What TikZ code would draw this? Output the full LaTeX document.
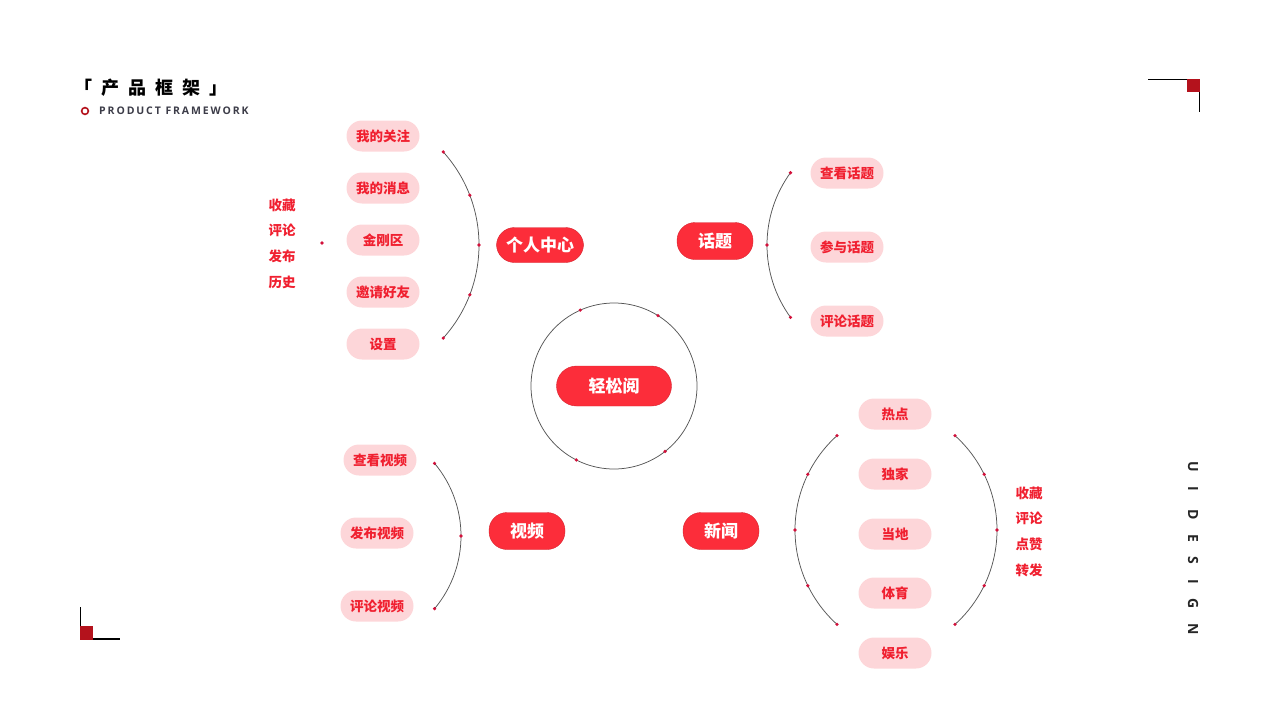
\documentclass[tikz,border=0pt]{standalone}
\usepackage{fontspec}
\usetikzlibrary{calc}
\setmainfont{Open Sans}
\newfontfamily\cjk{Noto Sans CJK SC}
\newfontfamily\cjkwide{Noto Sans CJK SC}[LetterSpace=50]
\newfontfamily\capsfont{Open Sans}[LetterSpace=18]
\newfontfamily\sidefont{Open Sans}[LetterSpace=105]
\definecolor{hubred}{RGB}{252,45,58}
\definecolor{leafpink}{RGB}{253,214,217}
\definecolor{leaftext}{RGB}{240,32,48}
\definecolor{dotred}{RGB}{210,16,58}
\definecolor{cornerred}{RGB}{180,18,28}
\definecolor{linegray}{RGB}{85,85,85}
\definecolor{subgray}{RGB}{60,60,72}

\begin{document}
\begin{tikzpicture}[x=1pt,y=-1pt]
    \tikzstyle{hub}=[rectangle, rounded corners=18pt, fill=hubred, draw=hubred!85!black, line width=0.4pt, text=white, minimum width=76pt, minimum height=37pt, inner sep=0pt, font=\cjk\bfseries\fontsize{17}{17}\selectfont]
    \tikzstyle{leaf}=[rectangle, rounded corners=15.5pt, fill=leafpink, text=leaftext, minimum width=73pt, minimum height=31pt, inner sep=0pt, font=\cjk\bfseries\fontsize{13.5}{13.5}\selectfont]
    \tikzstyle{note}=[text=leaftext, align=center, inner sep=0pt, font=\cjk\bfseries\fontsize{13.5}{25.7}\selectfont]
    \tikzstyle{dot}=[circle, fill=dotred, inner sep=0pt, minimum size=3.6pt]
    \tikzstyle{link}=[draw=linegray, line width=0.75pt]

    \useasboundingbox (0,0) rectangle (1280,720);

    % title and corners
    \node[anchor=west, inner sep=0pt] (title) at (74,88) {\cjkwide\bfseries\fontsize{18}{18}\selectfont 「产品框架」};
    \draw[draw=cornerred, line width=1.6pt] (85,111) circle (3.4);
    \node[anchor=west, inner sep=0pt, text=subgray] (sub) at (99,111) {\capsfont\bfseries\fontsize{10.5}{10.5}\selectfont PRODUCT FRAMEWORK};
    \node[rotate=-90, inner sep=0pt, text=black!85] (side) at (1193,548) {\sidefont\bfseries\fontsize{14}{14}\selectfont UI DESIGN};

    \coordinate (tr1) at (1148,79.5);
    \coordinate (tr2) at (1199.5,79.5);
    \coordinate (tr3) at (1199.5,112);
    \draw[line width=1.8pt] (tr1) -- (tr2) -- (tr3);
    \fill[cornerred] (1187,79) rectangle (1200,92);
    \coordinate (bl1) at (80.5,607);
    \coordinate (bl2) at (80.5,639);
    \coordinate (bl3) at (120,639);
    \draw[line width=1.8pt] (bl1) -- (bl2) -- (bl3);
    \fill[cornerred] (80,626) rectangle (93,639.5);

    % centre
    \coordinate (cc) at (614,386);
    \draw[link] (cc) circle (83);
    \node[hub, minimum width=115pt, minimum height=40pt, rounded corners=20pt] (main) at (614,386) {轻松阅};
    \foreach \a [count=\i] in {-114,-58,52,117}
        \node[dot] (c\i) at ($(cc)+(\a:83)$) {};

    % hubs
    \node[hub, minimum width=87pt, minimum height=35pt] (mine) at (540,245) {个人中心};
    \node[hub] (topic) at (715,241) {话题};
    \node[hub] (video) at (527,531) {视频};
    \node[hub] (news) at (721,531) {新闻};

    % mine
    \node[leaf] (m1) at (383,136) {我的关注};
    \node[leaf] (m2) at (383,188) {我的消息};
    \node[leaf] (m3) at (383,240) {金刚区};
    \node[leaf] (m4) at (383,292) {邀请好友};
    \node[leaf] (m5) at (383,344) {设置};
    \coordinate (mc) at (340,245);
    \draw[link] ($(mc)+(-42:139)$) arc[start angle=-42, end angle=42, radius=139];
    \foreach \a [count=\i] in {-42,-21,0,21,42}
        \node[dot] (ma\i) at ($(mc)+(\a:139)$) {};
    \node[note] (mnote) at (282,243.5) {收藏\\评论\\发布\\历史};
    \node[dot] (mn) at (322,243) {};

    % topic
    \node[leaf] (t1) at (847,173) {查看话题};
    \node[leaf] (t2) at (847,247) {参与话题};
    \node[leaf] (t3) at (847,321) {评论话题};
    \coordinate (tc) at (890,245);
    \draw[link] ($(tc)+(144:123)$) arc[start angle=144, end angle=216, radius=123];
    \foreach \a [count=\i] in {144,180,216}
        \node[dot] (ta\i) at ($(tc)+(\a:123)$) {};

    % video
    \node[leaf] (v1) at (380,460) {查看视频};
    \node[leaf] (v2) at (377,533) {发布视频};
    \node[leaf] (v3) at (377,606) {评论视频};
    \coordinate (vc) at (348,536);
    \draw[link] ($(vc)+(-40:113)$) arc[start angle=-40, end angle=40, radius=113];
    \foreach \a [count=\i] in {-40,0,40}
        \node[dot] (va\i) at ($(vc)+(\a:113)$) {};

    % news
    \node[leaf] (n1) at (895,414) {热点};
    \node[leaf] (n2) at (895,474) {独家};
    \node[leaf] (n3) at (895,534) {当地};
    \node[leaf] (n4) at (895,593) {体育};
    \node[leaf] (n5) at (895,653) {娱乐};
    \coordinate (nl) at (922,530);
    \coordinate (nr) at (870,530);
    \draw[link] ($(nl)+(132:127)$) arc[start angle=132, end angle=228, radius=127];
    \draw[link] ($(nr)+(-48:127)$) arc[start angle=-48, end angle=48, radius=127];
    \foreach \a [count=\i] in {132,154,180,206,228}
        \node[dot] (nla\i) at ($(nl)+(\a:127)$) {};
    \foreach \a [count=\i] in {-48,-26,0,26,48}
        \node[dot] (nra\i) at ($(nr)+(\a:127)$) {};
    \node[note] (nnote) at (1029,531.5) {收藏\\评论\\点赞\\转发};
\end{tikzpicture}
\end{document}
